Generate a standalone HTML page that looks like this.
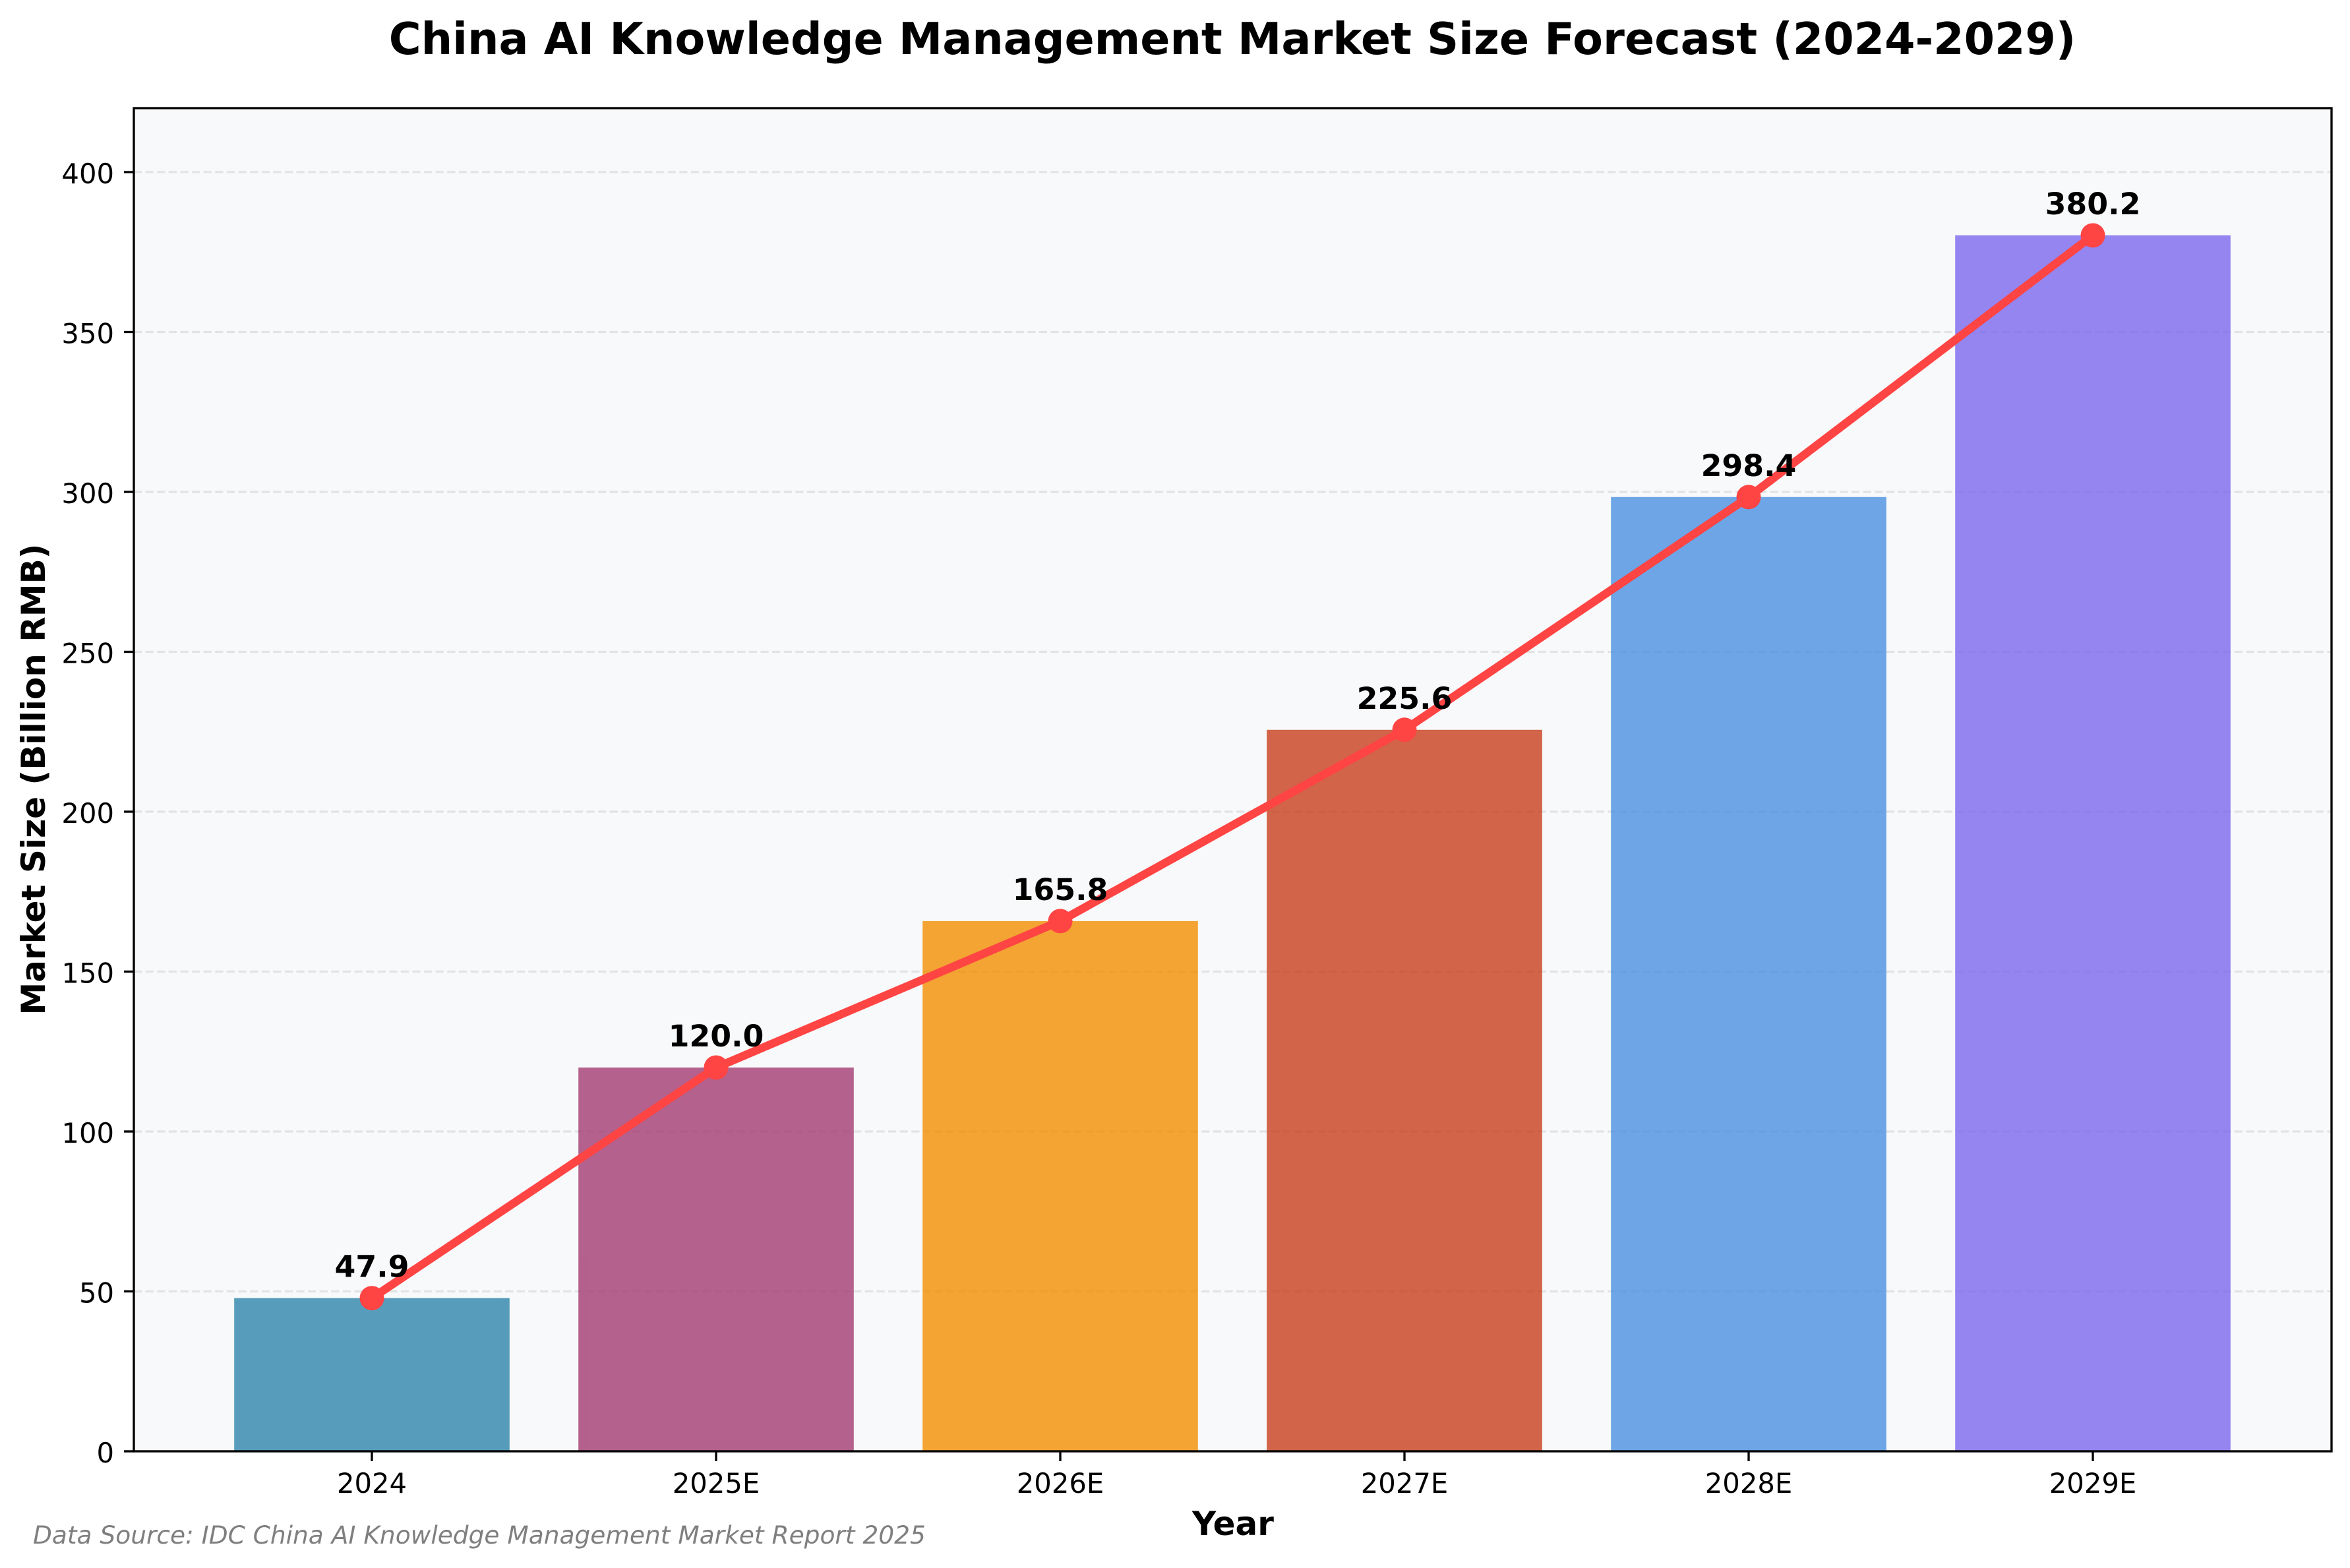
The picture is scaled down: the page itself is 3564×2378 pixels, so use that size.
<!DOCTYPE html>
<html>
<head>
<meta charset="utf-8">
<style>
html,body{margin:0;padding:0;background:#ffffff;}
svg{display:block;}
text{font-family:"DejaVu Sans","Liberation Sans",sans-serif;}
</style>
</head>
<body>
<svg width="3564" height="2378" viewBox="0 0 3564 2378" xmlns="http://www.w3.org/2000/svg">
<rect x="0" y="0" width="3564" height="2378" fill="#ffffff"/>
<!-- axes background -->
<rect x="203" y="164" width="3333" height="2037" fill="#f8f9fa"/>
<!-- grid -->
<g stroke="#e2e3e3" stroke-width="3.3" stroke-dasharray="12.3 5.3" fill="none">
<line x1="203" y1="1958.5" x2="3536" y2="1958.5"/>
<line x1="203" y1="1716" x2="3536" y2="1716"/>
<line x1="203" y1="1473.5" x2="3536" y2="1473.5"/>
<line x1="203" y1="1231" x2="3536" y2="1231"/>
<line x1="203" y1="988.5" x2="3536" y2="988.5"/>
<line x1="203" y1="746" x2="3536" y2="746"/>
<line x1="203" y1="503.5" x2="3536" y2="503.5"/>
<line x1="203" y1="261" x2="3536" y2="261"/>
</g>
<!-- bars -->
<g opacity="0.8">
<rect x="355.2" y="1968.7" width="417.6" height="232.3" fill="#2E86AB"/>
<rect x="877.2" y="1619" width="417.6" height="582" fill="#A23B72"/>
<rect x="1399.2" y="1396.9" width="417.6" height="804.1" fill="#F18F01"/>
<rect x="1921.2" y="1106.8" width="417.6" height="1094.2" fill="#C73E1D"/>
<rect x="2443.2" y="753.8" width="417.6" height="1447.2" fill="#4A90E2"/>
<rect x="2965.2" y="357" width="417.6" height="1844" fill="#7B68EE"/>
</g>
<!-- line -->
<polyline points="564,1968.7 1086,1619 1608,1396.9 2130,1106.8 2652,753.8 3174,357" fill="none" stroke="#ff4444" stroke-width="12.5" stroke-linejoin="round" stroke-linecap="round"/>
<g fill="#ff4444">
<circle cx="564" cy="1968.7" r="18.5"/>
<circle cx="1086" cy="1619" r="18.5"/>
<circle cx="1608" cy="1396.9" r="18.5"/>
<circle cx="2130" cy="1106.8" r="18.5"/>
<circle cx="2652" cy="753.8" r="18.5"/>
<circle cx="3174" cy="357" r="18.5"/>
</g>
<!-- data labels -->
<g font-size="45.8" font-weight="bold" text-anchor="middle" fill="#000">
<text x="564" y="1936.7">47.9</text>
<text x="1086" y="1587">120.0</text>
<text x="1608" y="1364.9">165.8</text>
<text x="2130" y="1074.8">225.6</text>
<text x="2652" y="721.8">298.4</text>
<text x="3174" y="325">380.2</text>
</g>
<!-- spines -->
<rect x="203" y="164" width="3333" height="2037" fill="none" stroke="#000" stroke-width="3.33"/>
<!-- y ticks -->
<g stroke="#000" stroke-width="3.33">
<line x1="188" y1="2201" x2="203" y2="2201"/>
<line x1="188" y1="1958.5" x2="203" y2="1958.5"/>
<line x1="188" y1="1716" x2="203" y2="1716"/>
<line x1="188" y1="1473.5" x2="203" y2="1473.5"/>
<line x1="188" y1="1231" x2="203" y2="1231"/>
<line x1="188" y1="988.5" x2="203" y2="988.5"/>
<line x1="188" y1="746" x2="203" y2="746"/>
<line x1="188" y1="503.5" x2="203" y2="503.5"/>
<line x1="188" y1="261" x2="203" y2="261"/>
</g>
<g font-size="41.7" text-anchor="end" fill="#000">
<text x="173" y="2218">0</text>
<text x="173" y="1975.5">50</text>
<text x="173" y="1733">100</text>
<text x="173" y="1490.5">150</text>
<text x="173" y="1248">200</text>
<text x="173" y="1005.5">250</text>
<text x="173" y="763">300</text>
<text x="173" y="520.5">350</text>
<text x="173" y="278">400</text>
</g>
<!-- x ticks -->
<g stroke="#000" stroke-width="3.33">
<line x1="564" y1="2201" x2="564" y2="2216"/>
<line x1="1086" y1="2201" x2="1086" y2="2216"/>
<line x1="1608" y1="2201" x2="1608" y2="2216"/>
<line x1="2130" y1="2201" x2="2130" y2="2216"/>
<line x1="2652" y1="2201" x2="2652" y2="2216"/>
<line x1="3174" y1="2201" x2="3174" y2="2216"/>
</g>
<g font-size="41.7" text-anchor="middle" fill="#000">
<text x="564" y="2264">2024</text>
<text x="1086" y="2264">2025E</text>
<text x="1608" y="2264">2026E</text>
<text x="2130" y="2264">2027E</text>
<text x="2652" y="2264">2028E</text>
<text x="3174" y="2264">2029E</text>
</g>
<!-- axis labels -->
<text x="1870" y="2328" font-size="50" font-weight="bold" text-anchor="middle" fill="#000">Year</text>
<text x="68" y="1182" font-size="50" font-weight="bold" text-anchor="middle" fill="#000" transform="rotate(-90 68 1182)">Market Size (Billion RMB)</text>
<!-- title -->
<text x="1869" y="82" font-size="66.7" font-weight="bold" text-anchor="middle" fill="#000">China AI Knowledge Management Market Size Forecast (2024-2029)</text>
<!-- source -->
<text x="50" y="2341" font-size="37.5" font-style="italic" fill="#7f7f7f">Data Source: IDC China AI Knowledge Management Market Report 2025</text>
</svg>
</body>
</html>
